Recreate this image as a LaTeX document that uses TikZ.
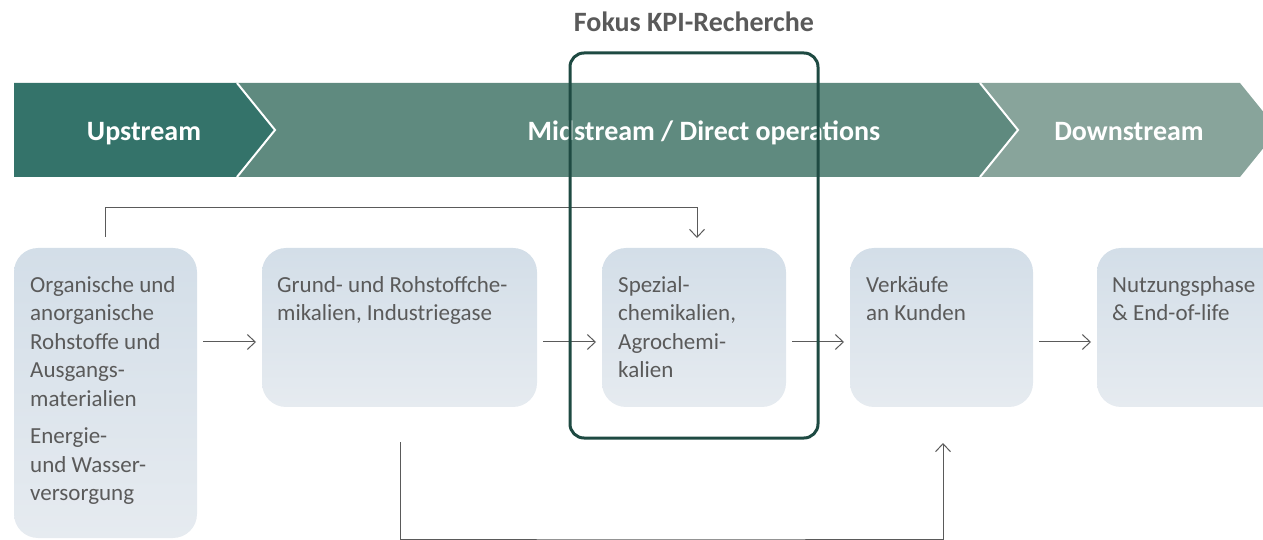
\documentclass[tikz,border=0pt]{standalone}
\usepackage{fontspec}
\setmainfont{Carlito}
\usetikzlibrary{arrows.meta}
\definecolor{upc}{HTML}{34736A}
\definecolor{midc}{HTML}{5F8A7F}
\definecolor{downc}{HTML}{88A49B}
\definecolor{focusc}{HTML}{1E4A42}
\definecolor{txtc}{HTML}{5A5A5A}
\definecolor{boxtop}{HTML}{D3DEE8}
\definecolor{boxbot}{HTML}{E6EBF0}
\tikzset{
  stagebox/.style={rounded corners=24bp, top color=boxtop, bottom color=boxbot, draw=none},
  boxtext/.style={anchor=north west, inner sep=0pt, align=left, text=txtc,
    font=\fontsize{23bp}{28.5bp}\selectfont},
  headtext/.style={anchor=base, text=white, font=\fontsize{28bp}{33bp}\selectfont\bfseries, inner sep=0pt},
  flow/.style={draw=txtc, line width=1bp, -{Straight Barb[length=8bp,width=15bp]}},
  seg/.style={draw=white, line width=2bp},
}
\begin{document}
\begin{tikzpicture}[x=1bp,y=-1bp]
\useasboundingbox (0,0) rectangle (1263,540);
\begin{scope}
\clip (0,0) rectangle (1263,540);
% banner
\fill[downc] (980,83) -- (1240,83) -- (1278,130) -- (1240,177) -- (980,177) -- (1018,130) -- cycle;
\fill[midc] (237,83) -- (980,83) -- (1018,130) -- (980,177) -- (237,177) -- (275,130) -- cycle;
\fill[upc] (14,83) -- (237,83) -- (275,130) -- (237,177) -- (14,177) -- cycle;
\draw[seg] (237,83) -- (275,130) -- (237,177);
\draw[seg] (980,83) -- (1018,130) -- (980,177);
\node[headtext] (up) at (144,141) {Upstream};
\node[headtext] (mid) at (704,141) {Midstream / Direct operations};
\node[headtext] (down) at (1129,141) {Downstream};
\node[headtext, text=txtc] (fokus) at (694,32) {Fokus KPI-Recherche};
% stage boxes
\path[stagebox] (14,248) rectangle (197,538);
\coordinate (b1e) at (197,342);
\path[stagebox] (262,248) rectangle (537,407);
\coordinate (b2w) at (262,342); \coordinate (b2e) at (537,342);
\path[stagebox] (602,248) rectangle (786,407);
\coordinate (b3w) at (602,342); \coordinate (b3e) at (786,342);
\path[stagebox] (850,248) rectangle (1033,407);
\coordinate (b4w) at (850,342); \coordinate (b4e) at (1033,342);
\path[stagebox] (1097,248) rectangle (1300,407);
\coordinate (b5w) at (1097,342);
\node[boxtext] (t1) at (30,276) {Organische und\\anorganische\\Rohstoffe und\\Ausgangs-\\materialien\\[9bp]Energie-\\und Wasser-\\versorgung};
\node[boxtext] (t2) at (277,276) {Grund- und Rohstoffche-\\mikalien, Industriegase};
\node[boxtext] (t3) at (618,276) {Spezial-\\chemikalien,\\Agrochemi-\\kalien};
\node[boxtext] (t4) at (866,276) {Verkäufe\\an Kunden};
\node[boxtext] (t5) at (1112,276) {Nutzungsphase\\\& End-of-life};
% flows
\draw[flow] ([xshift=6bp]b1e) -- ([xshift=-6bp]b2w);
\draw[flow] ([xshift=6bp]b2e) -- ([xshift=-6bp]b3w);
\draw[flow] ([xshift=6bp]b3e) -- ([xshift=-6bp]b4w);
\draw[flow] ([xshift=6bp]b4e) -- ([xshift=-6bp]b5w);
\coordinate (topA) at (105,237);
\coordinate (topB) at (697,238);
\draw[flow] (topA) |- (105,208) -| (topB);
\coordinate (botA) at (400,442);
\coordinate (botB) at (943,443);
\draw[flow] (botA) |- (670,539) -| (botB);
% focus frame
\draw[focusc, line width=3bp, rounded corners=14bp] (570,53) rectangle (818,438);
\end{scope}
\end{tikzpicture}
\end{document}
